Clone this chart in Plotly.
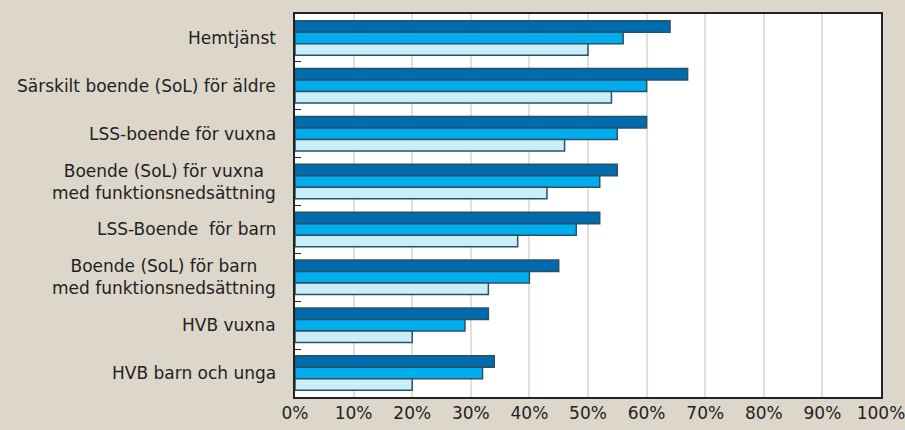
import plotly.graph_objects as go

categories = [
    "Hemtjänst",
    "Särskilt boende (SoL) för äldre",
    "LSS-boende för vuxna",
    "Boende (SoL) för vuxna<br>med funktionsnedsättning",
    "LSS-Boende  för barn",
    "Boende (SoL) för barn<br>med funktionsnedsättning",
    "HVB vuxna",
    "HVB barn och unga",
]
series_a = [0.64, 0.67, 0.60, 0.55, 0.52, 0.45, 0.33, 0.34]
series_b = [0.56, 0.60, 0.55, 0.52, 0.48, 0.40, 0.29, 0.32]
series_c = [0.50, 0.54, 0.46, 0.43, 0.38, 0.33, 0.20, 0.20]
x_ticks = [i / 10 for i in range(11)]

colors = ["#006BB0", "#00AEEF", "#C8EEFC"]
outline = "#2B5261"

fig = go.Figure()
for vals, col, name in zip([series_a, series_b, series_c], colors, ["A", "B", "C"]):
    fig.add_trace(go.Bar(
        y=categories, x=vals, orientation="h", name=name,
        marker=dict(color=col, line=dict(color=outline, width=1.5)),
    ))

font_family = "DejaVu Sans"
for cat in categories:
    fig.add_annotation(
        x=0, xref="paper", y=cat, yref="y",
        text=cat, showarrow=False, xanchor="right", align="center",
        xshift=-17, font=dict(family=font_family, size=17, color="#222222"),
    )

fig.update_layout(
    width=905, height=430,
    margin=dict(l=295, r=24, t=14, b=33, autoexpand=False),
    paper_bgcolor="#DDD6CB",
    plot_bgcolor="#FFFFFF",
    barmode="group",
    bargap=0.28,
    bargroupgap=0.0,
    showlegend=False,
    font=dict(family=font_family, size=17, color="#222222"),
)
fig.update_xaxes(
    range=[0, 1], tickvals=x_ticks, tickformat=".0%",
    showgrid=True, gridcolor="#E3DED6", gridwidth=1.5,
    showline=True, linecolor="#222222", linewidth=1.5, mirror=True,
    zeroline=False, ticks="", ticklabeloverflow="allow", automargin=False,
    tickfont=dict(family=font_family, size=17, color="#222222"),
)
fig.update_yaxes(
    autorange="reversed", showticklabels=False, automargin=False,
    tickson="boundaries", ticks="inside", ticklen=6, tickcolor="#222222",
    showgrid=False, showline=True, linecolor="#222222", linewidth=1.5, mirror=True,
)

fig.write_html(
    "out.html",
    config={"displayModeBar": False},
    post_script="document.body.style.margin='0';document.body.style.overflow='hidden';",
)
